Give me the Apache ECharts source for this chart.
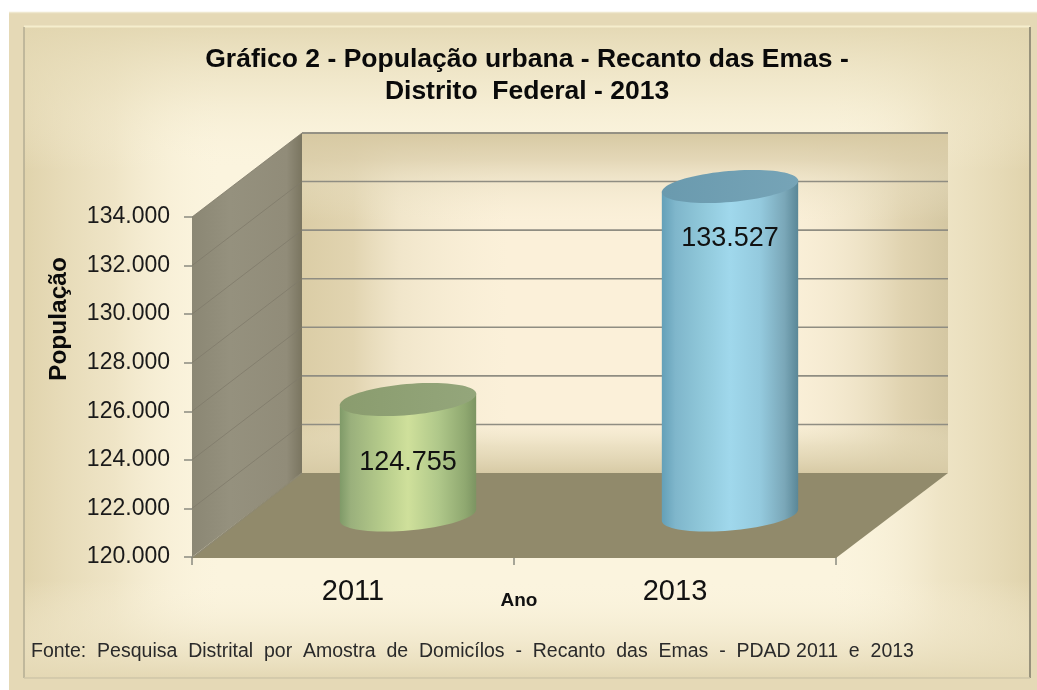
<!DOCTYPE html>
<html><head><meta charset="utf-8">
<style>html,body{margin:0;padding:0;background:#fff}#c{width:1037px;height:690px}</style>
<script src="https://cdn.jsdelivr.net/npm/echarts@6/dist/echarts.min.js"></script>
</head><body><div id="c"></div>
<script>
const categories = ['2011', '2013'];
const populationValues = [124755, 133527];
const yTicks = [120000, 122000, 124000, 126000, 128000, 130000, 132000, 134000];
const yMin = 120000, yMax = 134000, yStep = 2000;

const titleText = 'Gráfico 2 - População urbana - Recanto das Emas -\nDistrito  Federal - 2013';
const sourceText = 'Fonte:  Pesquisa  Distrital  por  Amostra  de  Domicílos  -  Recanto  das  Emas  -  PDAD 2011  e  2013';

// Styling of the pseudo-3D scene
const DEPTH_X = 110, DEPTH_Y = -84;
const FONT = '"Liberation Sans", Arial, sans-serif';
const fmt = v => String(v).replace(/\B(?=(\d{3})+$)/g, '.');
const lin = (horizontal, stops) => ({type:'linear',x:0,y:0,x2:horizontal?1:0,y2:horizontal?0:1,
  colorStops:stops.map(s=>({offset:s[0],color:s[1]}))});
const barStyles = [
  {label:63, top:lin(true,[[0,'#8a9c6e'],[1,'#94a67b']]),
   body:lin(true,[[0,'#7f9a68'],[0.08,'#9ab07c'],[0.3,'#b4ca8a'],[0.5,'#cfe09b'],[0.72,'#b0c88a'],[0.92,'#8fa870'],[1,'#7c9462']])},
  {label:52, top:lin(true,[[0,'#6a9aae'],[1,'#76a4b7']]),
   body:lin(true,[[0,'#64a0b8'],[0.1,'#7fb6cb'],[0.3,'#90c8da'],[0.5,'#a0d8ec'],[0.72,'#94cade'],[0.9,'#7aa7b8'],[1,'#5a8797']])}
];

function ellipsePts(cx, cy, a, b, phi, t0, t1, n) {
  const pts = [];
  for (let i = 0; i <= n; i++) {
    const t = t0 + (t1 - t0) * i / n;
    pts.push([cx + a*Math.cos(t)*Math.cos(phi) - b*Math.sin(t)*Math.sin(phi),
              cy + a*Math.cos(t)*Math.sin(phi) + b*Math.sin(t)*Math.cos(phi)]);
  }
  return pts;
}

function renderWalls(params, api) {
  const cs = params.coordSys;
  const x0 = cs.x, x1 = cs.x + cs.width, y0 = cs.y, y1 = cs.y + cs.height;
  const bx = x0 + DEPTH_X, bx1 = x1 + DEPTH_X + 2, by = y0 + DEPTH_Y, by1 = y1 + DEPTH_Y;
  const bw = bx1 - bx, bh = by1 - by;
  return {type:'group', children:[
    {type:'rect', shape:{x:bx,y:by,width:bw,height:bh}, style:{fill:'#fbf0d9'}},
    {type:'rect', shape:{x:bx,y:by,width:bw,height:bh}, style:{fill:lin(true,[
      [0,'rgba(217,203,163,0.95)'],[0.08,'rgba(217,203,163,0.75)'],[0.15,'rgba(225,214,180,0.4)'],[0.32,'rgba(240,232,205,0)'],
      [0.74,'rgba(240,232,205,0)'],[0.85,'rgba(225,214,180,0.4)'],[0.93,'rgba(215,201,162,0.75)'],[1,'rgba(212,199,162,1)']])}},
    {type:'rect', shape:{x:bx,y:by,width:bw,height:bh}, style:{fill:lin(false,[
      [0,'rgba(215,201,162,1)'],[0.08,'rgba(220,207,172,0.75)'],[0.145,'rgba(230,220,190,0.45)'],[0.26,'rgba(240,232,205,0)'],
      [0.84,'rgba(240,232,205,0)'],[0.92,'rgba(225,214,180,0.6)'],[1,'rgba(215,202,165,1)']])}},
    {type:'polygon', shape:{points:[[x0,y0],[bx,by],[bx,by1],[x0,y1]]},
      style:{fill:lin(true,[[0,'#8b8774'],[0.35,'#95917e'],[0.86,'#918c79'],[1,'#7a7560']])}},
    {type:'polygon', shape:{points:[[x0,y1+1],[x1,y1+1],[bx1,by1],[bx,by1]]}, style:{fill:'#918a6b'}},
    {type:'line', shape:{x1:x0,y1:y1+1,x2:bx,y2:by1}, style:{stroke:'#8d8872',lineWidth:1.5}},
    {type:'line', shape:{x1:bx,y1:by,x2:bx1,y2:by}, style:{stroke:'#8f8b78',lineWidth:1.5}}
  ]};
}

function renderGridLines(params, api) {
  const p = api.coord([0, api.value(0)]);
  const cs = params.coordSys;
  const y = p[1], bx = cs.x + DEPTH_X, by = y + DEPTH_Y;
  return {type:'group', children:[
    {type:'line', shape:{x1:cs.x,y1:y,x2:bx,y2:by}, style:{stroke:'#7f7b6a',lineWidth:1,opacity:0.8}},
    {type:'line', shape:{x1:bx,y1:by,x2:cs.x+cs.width+DEPTH_X+2,y2:by}, style:{stroke:'#8f8d82',lineWidth:1.6}}
  ]};
}

function renderCylinder(params, api) {
  const i = api.value(0), st = barStyles[i];
  const base = api.coord([i, yMin]), top = api.coord([i, api.value(1)]);
  const dx = DEPTH_X/2, dy = DEPTH_Y/2;
  const bw = api.size([1,0])[0] * 0.425;
  const a = bw/2, b = 15.5, phi = -5*Math.PI/180;
  const tr = Math.atan(-(b/a)*Math.tan(phi));
  const cx = base[0]+dx, cyB = base[1]+dy, cyT = top[1]+dy;
  const lower = ellipsePts(cx, cyB, a, b, phi, tr, tr+Math.PI, 40);
  const upper = ellipsePts(cx, cyT, a, b, phi, tr+Math.PI, tr, 2);
  const cap = ellipsePts(cx, cyT, a, b, phi, 0, Math.PI*2, 80);
  return {type:'group', children:[
    {type:'polygon', shape:{points:lower.concat(upper)}, style:{fill:st.body}},
    {type:'polygon', shape:{points:cap}, style:{fill:st.top}},
    {type:'text', style:{x:cx, y:cyT+st.label, text:fmt(api.value(1)), fill:'#111',
      font:'27px '+FONT, align:'center', verticalAlign:'middle'}}
  ]};
}

const chart = echarts.init(document.getElementById('c'), null, {renderer:'canvas'});
chart.setOption({
  animation:false,
  textStyle:{fontFamily:FONT},
  title:[
    {text:titleText, left:522, top:39, textAlign:'center',
     textStyle:{fontFamily:FONT,fontSize:26.5,fontWeight:'bold',color:'#0a0a0a',lineHeight:32}},
    {text:sourceText, left:26, top:637,
     textStyle:{fontFamily:FONT,fontSize:19.5,fontWeight:'normal',color:'#2a2a2a'}}
  ],
  graphic:[
    {type:'rect', z:-20, shape:{x:9,y:12,width:1028,height:678}, style:{fill:'#e5d9b6'}},
    {type:'line', z:-20, shape:{x1:9,y1:12.5,x2:1037,y2:12.5}, style:{stroke:'#efe8cf',lineWidth:1.5}},
    {type:'rect', z:-19, shape:{x:24,y:27,width:1006,height:651}, style:{fill:'#fbf4de'}},
    {type:'rect', z:-18, shape:{x:24,y:27,width:1006,height:651}, style:{fill:lin(true,[
      [0,'rgba(224,211,172,1)'],[0.09,'rgba(232,220,185,0.65)'],[0.2,'rgba(251,244,222,0)'],
      [0.8,'rgba(251,244,222,0)'],[0.91,'rgba(232,220,185,0.65)'],[1,'rgba(224,211,172,1)']])}},
    {type:'rect', z:-17, shape:{x:24,y:27,width:1006,height:651}, style:{fill:lin(false,[
      [0,'rgba(226,214,176,0.9)'],[0.1,'rgba(235,225,192,0.5)'],[0.22,'rgba(251,244,222,0)'],
      [0.85,'rgba(251,244,222,0)'],[1,'rgba(228,216,180,1)']])}},
    {type:'line', z:-16, shape:{x1:24,y1:26.5,x2:1030,y2:26.5}, style:{stroke:'#f5eecd',lineWidth:2}},
    {type:'line', z:-16, shape:{x1:24,y1:27,x2:24,y2:678}, style:{stroke:'#b3ad93',lineWidth:1.5}},
    {type:'line', z:-16, shape:{x1:1030,y1:27,x2:1030,y2:678}, style:{stroke:'#7e7a68',lineWidth:1.5}},
    {type:'line', z:-16, shape:{x1:24,y1:678,x2:1030,y2:678}, style:{stroke:'#cfc6a8',lineWidth:1.5}}
  ],
  grid:{left:192,top:217,width:644,height:340,containLabel:false},
  xAxis:{type:'category',data:categories,boundaryGap:true,
    name:'Ano',nameLocation:'middle',nameGap:34,nameMoveOverlap:false,
    nameTextStyle:{fontFamily:FONT,fontSize:19,fontWeight:'bold',color:'#111',padding:[0,0,0,10]},
    axisLine:{show:true,lineStyle:{color:'#8f8b78',width:1}},
    axisTick:{show:true,alignWithLabel:false,length:8,lineStyle:{color:'#8a8a80',width:1.5}},
    axisLabel:{fontFamily:FONT,fontSize:29,color:'#111',margin:20}},
  yAxis:{type:'value',min:yMin,max:yMax,interval:yStep,
    name:'População',nameLocation:'middle',nameGap:120,nameRotate:90,nameMoveOverlap:false,
    nameTextStyle:{fontFamily:FONT,fontSize:24.5,fontWeight:'bold',color:'#0a0a0a',padding:[0,0,0,136]},
    axisLine:{show:true,lineStyle:{color:'#8f8b78',width:1}},
    axisTick:{show:true,length:8,lineStyle:{color:'#8a8a80',width:1.5}},
    splitLine:{show:false},
    axisLabel:{fontFamily:FONT,fontSize:23,color:'#1a1a1a',margin:22,formatter:v=>fmt(v)}},
  series:[
    {type:'custom',name:'walls',z:1,silent:true,clip:false,renderItem:renderWalls,data:[[0]],encode:{x:0,y:0}},
    {type:'custom',name:'grid',z:2,silent:true,clip:false,renderItem:renderGridLines,
     data:yTicks.slice(1).map(v=>[v]),encode:{y:0}},
    {type:'custom',name:'População',z:3,clip:false,renderItem:renderCylinder,
     data:populationValues.map((v,i)=>[i,v]),encode:{x:0,y:1}}
  ]
});
</script></body></html>
